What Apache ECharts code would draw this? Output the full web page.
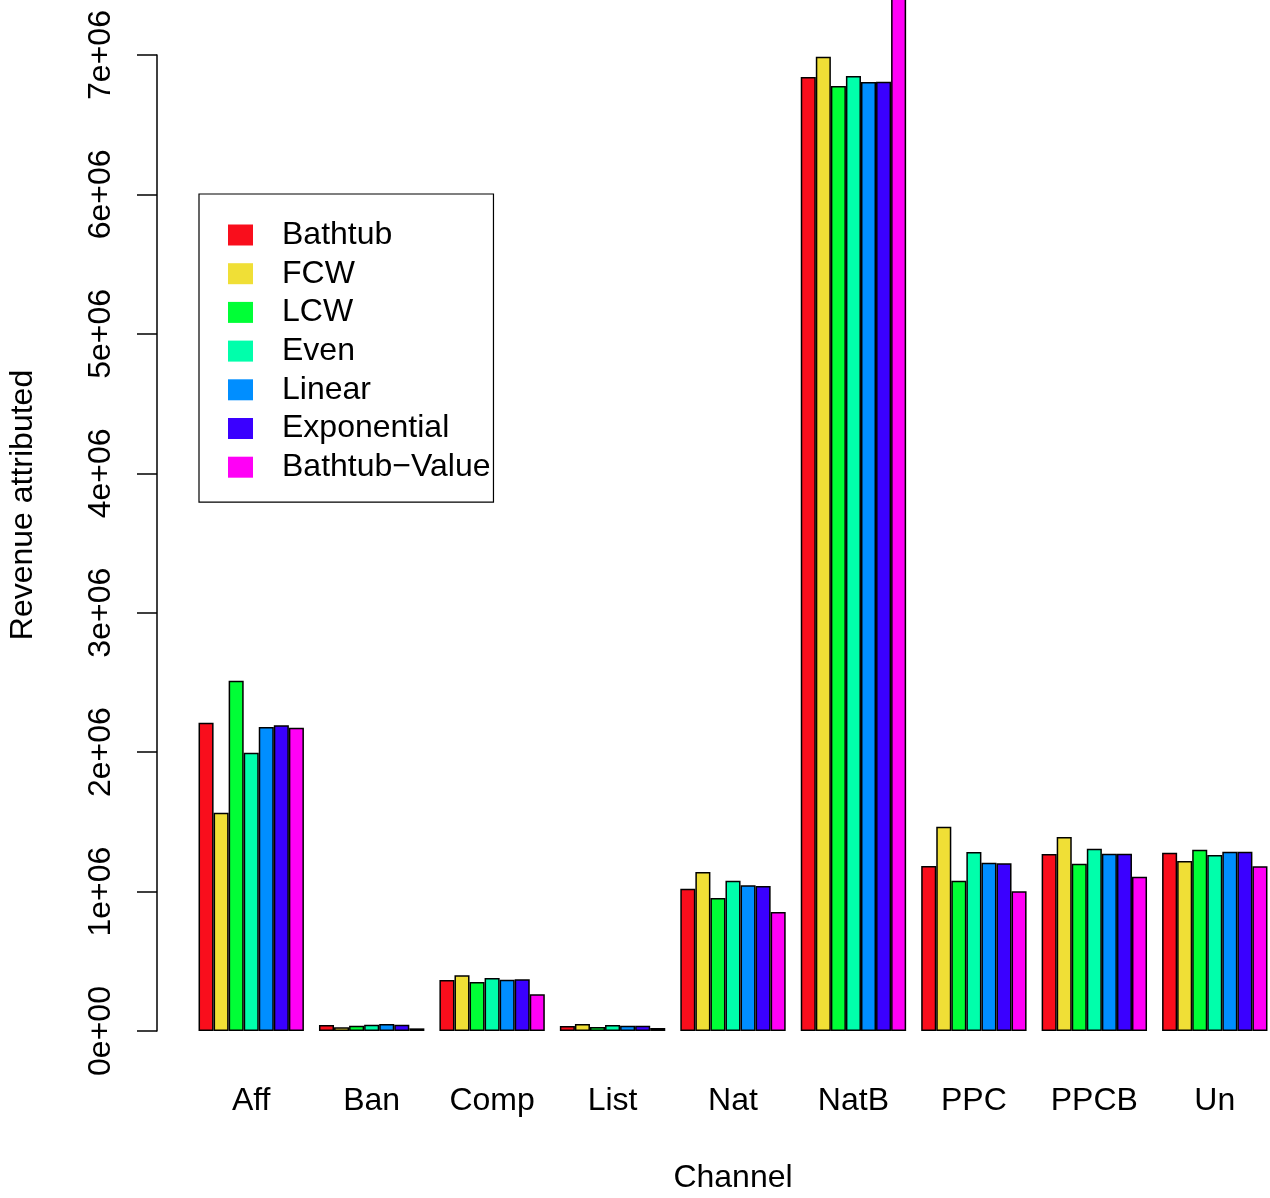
<!DOCTYPE html>
<html>
<head>
<meta charset="utf-8">
<script src="https://cdn.jsdelivr.net/npm/echarts@6/dist/echarts.min.js"></script>
<style>html,body{margin:0;padding:0;background:#fff}#c{width:1270px;height:1198px}</style>
</head>
<body>
<div id="c"></div>
<script>
var categories = ["Aff", "Ban", "Comp", "List", "Nat", "NatB", "PPC", "PPCB", "Un"];
var seriesNames = ["Bathtub", "FCW", "LCW", "Even", "Linear", "Exponential", "Bathtub\u2212Value"];
var bathtub     = [2211000, 43000, 366000, 36000, 1021000, 6842000, 1183000, 1269000, 1279000];
var fcw         = [1566000, 26000, 400000, 50000, 1140000, 6988000, 1465000, 1391000, 1219000];
var lcw         = [2512000, 38000, 351000, 29000,  954000, 6778000, 1078000, 1200000, 1300000];
var even        = [1996000, 45000, 380000, 43000, 1078000, 6849000, 1284000, 1308000, 1262000];
var linear      = [2180000, 50000, 368000, 38000, 1045000, 6806000, 1207000, 1272000, 1286000];
var exponential = [2192000, 45000, 371000, 38000, 1040000, 6808000, 1203000, 1272000, 1286000];
var bathtubValue= [2175000, 19000, 263000, 22000,  853000, 8000000, 1002000, 1107000, 1181000];
var yTickLabels = ["0e+00", "1e+06", "2e+06", "3e+06", "4e+06", "5e+06", "6e+06", "7e+06"];
var colors = ["#F90E1C", "#F0DF36", "#00FF36", "#00FFAB", "#008EFF", "#3A00FF", "#FF00F6"];

var allData = [bathtub, fcw, lcw, even, linear, exponential, bathtubValue];
var FONT = "Liberation Sans, Arial, Helvetica, sans-serif";

var chart = echarts.init(document.getElementById('c'), null, {renderer: 'canvas'});
chart.setOption({
  animation: false,
  backgroundColor: '#ffffff',
  color: colors,
  grid: {left: 191, width: 1084, top: 55, bottom: 167, containLabel: false, outerBoundsMode: 'none'},
  legend: {
    orient: 'vertical',
    left: 199, top: 194,
    padding: [25, 3, 19, 29],
    borderColor: '#000', borderWidth: 1.2,
    itemWidth: 25, itemHeight: 21, itemGap: 6.7,
    icon: 'rect',
    selectedMode: false,
    itemStyle: {borderWidth: 0},
    textStyle: {fontFamily: FONT, fontSize: 32, color: '#000', padding: [0, 0, 0, 24], lineHeight: 32},
    data: seriesNames
  },
  xAxis: {
    type: 'category',
    data: categories,
    axisLine: {show: false},
    axisTick: {show: false},
    axisLabel: {fontFamily: FONT, fontSize: 32, color: '#000', margin: 54},
    name: 'Channel',
    nameLocation: 'middle',
    nameGap: 131,
    nameTextStyle: {fontFamily: FONT, fontSize: 32, color: '#000'}
  },
  yAxis: {
    type: 'value',
    min: 0, max: 7000000, interval: 1000000,
    offset: 34,
    splitLine: {show: false},
    axisLine: {show: true, lineStyle: {color: '#000', width: 1.5}},
    axisTick: {show: true, length: 20, lineStyle: {color: '#000', width: 1.5}},
    axisLabel: {
      fontFamily: FONT, fontSize: 32, color: '#000', rotate: 90, margin: 40,
      formatter: function (v) { return yTickLabels[Math.round(v / 1000000)]; }
    },
    name: 'Revenue attributed',
    nameLocation: 'middle',
    nameRotate: 90,
    nameGap: 118,
    nameTextStyle: {fontFamily: FONT, fontSize: 32, color: '#000', padding: [0, 0, 0, 76]}
  },
  series: allData.map(function (d, i) {
    return {
      name: seriesNames[i],
      type: 'bar',
      data: d,
      barGap: '0%',
      barCategoryGap: '12.5%',
      clip: false,
      itemStyle: {color: colors[i], borderColor: '#000', borderWidth: 1.5},
      emphasis: {disabled: true}
    };
  })
});
</script>
</body>
</html>
